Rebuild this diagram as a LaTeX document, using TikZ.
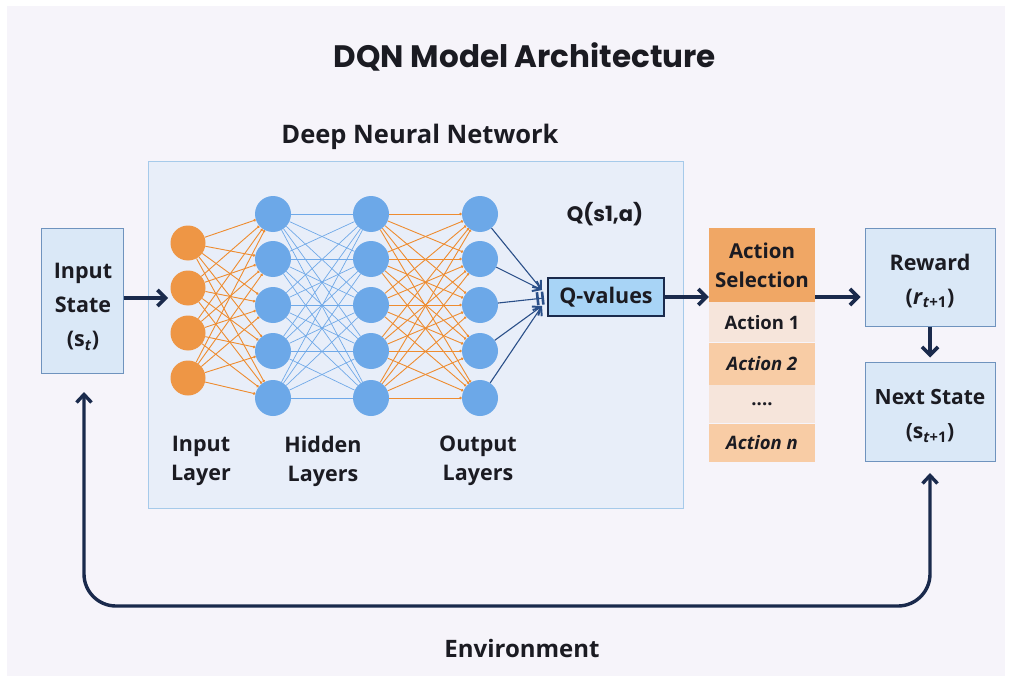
\documentclass[tikz,border=0pt]{standalone}
\usepackage{fontspec}
\setmainfont{Open Sans}
\newfontfamily\titlefont{Poppins}
\usetikzlibrary{arrows.meta}
\definecolor{bgc}{HTML}{F6F4FA}
\definecolor{dnnfill}{HTML}{E8EEF9}
\definecolor{dnnborder}{HTML}{A6CAEA}
\definecolor{boxfill}{HTML}{DAE8F7}
\definecolor{boxborder}{HTML}{6F93BE}
\definecolor{orangenode}{HTML}{EE9645}
\definecolor{bluenode}{HTML}{6CA8E8}
\definecolor{orangeedge}{HTML}{EE8C30}
\definecolor{blueedge}{HTML}{70A9E8}
\definecolor{navy}{HTML}{1A2A4C}
\definecolor{outedge}{HTML}{2A4F88}
\definecolor{qfill}{HTML}{A8D4F6}
\definecolor{acthead}{HTML}{F0A765}
\definecolor{actlight}{HTML}{F6E5DB}
\definecolor{actmid}{HTML}{F8CCA5}
\definecolor{txt}{HTML}{1B1B22}
\begin{document}
\begin{tikzpicture}[x=1pt,y=-1pt,
  every node/.style={text=txt},
  lbl/.style={font=\bfseries\fontsize{21.5}{29}\selectfont, align=center},
  box/.style={draw=boxborder, fill=boxfill, line width=1pt},
  boxtext/.style={font=\bfseries\fontsize{21.5}{34}\selectfont, align=center},
  onode/.style={circle, fill=orangenode, minimum size=35pt, inner sep=0pt},
  bnode/.style={circle, fill=bluenode, minimum size=36pt, inner sep=0pt},
  oedge/.style={draw=orangeedge, line width=0.9pt, -{Circle[length=2.5pt]}},
  bedge/.style={draw=blueedge, line width=0.7pt},
  qedge/.style={draw=outedge, line width=1.1pt, -{Straight Barb[length=7pt,width=11pt,line width=2pt]}},
  bigarrow/.style={draw=navy, line width=3.6pt, -{Straight Barb[length=8pt,width=16pt]}},
  actrow/.style={minimum width=106pt, inner sep=0pt, font=\bfseries\fontsize{18.5}{20}\selectfont},
]
\useasboundingbox (0,0) rectangle (1012,682);
\fill[white] (0,0) rectangle (1012,682);
\fill[bgc] (7,6) rectangle (1005,676);

% titles
\node[font=\titlefont\bfseries\fontsize{31}{34}\selectfont] (title) at (525,57) {DQN Model Architecture};
\node[font=\bfseries\fontsize{25.5}{28}\selectfont] (dnntitle) at (420,137) {Deep Neural Network};

% DNN frame
\node[draw=dnnborder, fill=dnnfill, line width=1pt, minimum width=535pt, minimum height=346pt] (dnn) at (415.5,335) {};

% input state
\node[box, minimum width=82pt, minimum height=145pt] (inp) at (82,300.5) {};
\node[boxtext] (inptxt) at (83,307) {Input\\State\\(s\textsubscript{\textit{t}})};

% network nodes
\foreach \y [count=\i] in {243,288,333,378} \node[onode] (i\i) at (188,\y) {};
\foreach \y [count=\i] in {214,259,305,351,398} {
  \node[bnode] (h\i) at (273,\y) {};
  \node[bnode] (g\i) at (371,\y) {};
  \node[bnode] (o\i) at (480,\y) {};
}
\foreach \a in {1,...,4} \foreach \b in {1,...,5} \draw[oedge] (i\a) -- (h\b);
\foreach \a in {1,...,5} \foreach \b in {1,...,5} \draw[bedge] (h\a) -- (g\b);
\foreach \a in {1,...,5} \foreach \b in {1,...,5} \draw[oedge] (g\a) -- (o\b);

% layer labels
\node[lbl] (lin) at (201,461) {Input\\Layer};
\node[lbl] (lhid) at (323,461) {Hidden\\Layers};
\node[lbl] (lout) at (478,461) {Output\\Layers};

% Q-values
\node[draw=navy, fill=qfill, line width=1.8pt, minimum width=116pt, minimum height=38pt, inner sep=0pt, font=\bfseries\fontsize{21.5}{22}\selectfont] (q) at (606,297) {Q-values};
\node[font=\titlefont\bfseries\fontsize{21}{22}\selectfont] (qsa) at (605,214) {Q(s1,a)};
\coordinate (qa) at (542,290);
\coordinate (qm) at (544,298);
\coordinate (qb) at (542,306);
\draw[qedge] (o1) -- (qa);
\draw[qedge] (o2) -- (qa);
\draw[draw=outedge, line width=1.1pt, -{Bar[width=13pt,line width=2.6pt,sep=2.5pt]Bar[width=13pt,line width=2.6pt]}] (o3) -- (qm);
\draw[qedge] (o4) -- (qb);
\draw[qedge] (o5) -- (qb);

% input arrow
\draw[bigarrow] (inp.east |- 0,298) -- (168,298);

% action column
\node[fill=acthead, minimum width=106pt, minimum height=74pt, inner sep=0pt, align=center, font=\bfseries\fontsize{20.5}{29}\selectfont] (ahead) at (762,265) {Action\\Selection};
\node[actrow, fill=actlight, minimum height=40pt, anchor=north] (a1) at (ahead.south) {Action 1};
\node[actrow, fill=actmid, minimum height=42pt, anchor=north] (a2) at (a1.south) {\itshape Action 2};
\node[actrow, fill=actlight, minimum height=38pt, anchor=north] (a3) at (a2.south) {....};
\node[actrow, fill=actmid, minimum height=38pt, anchor=north] (a4) at (a3.south) {\itshape Action n};

\draw[bigarrow] (q.east) -- (ahead.west |- q.east);

% reward / next state
\node[box, minimum width=130pt, minimum height=98pt] (rew) at (930,277) {};
\node[boxtext] (rewtxt) at (930,281) {Reward\\(\textit{r}\textsubscript{\textit{t}+1})};
\node[box, minimum width=130pt, minimum height=99pt] (nxt) at (930,411.5) {};
\node[boxtext, font=\bfseries\fontsize{21}{34}\selectfont] (nxttxt) at (930,416) {Next State\\(s\textsubscript{\textit{t}+1})};
\draw[bigarrow] (ahead.east |- q.east) -- ([xshift=-4pt]rew.west |- q.east);
\draw[bigarrow] (rew.south) -- ([yshift=4pt]nxt.north);

% environment loop
\coordinate (envL) at (84,392);
\coordinate (envR) at (930,473);
\draw[navy, line width=3.4pt, rounded corners=32pt, {Straight Barb[length=8pt,width=15pt]}-{Straight Barb[length=8pt,width=15pt]}] (envL) -- (84,606) -- (930,606) -- (envR);
\node[font=\bfseries\fontsize{24}{26}\selectfont] (env) at (522,648) {Environment};
\end{tikzpicture}
\end{document}
